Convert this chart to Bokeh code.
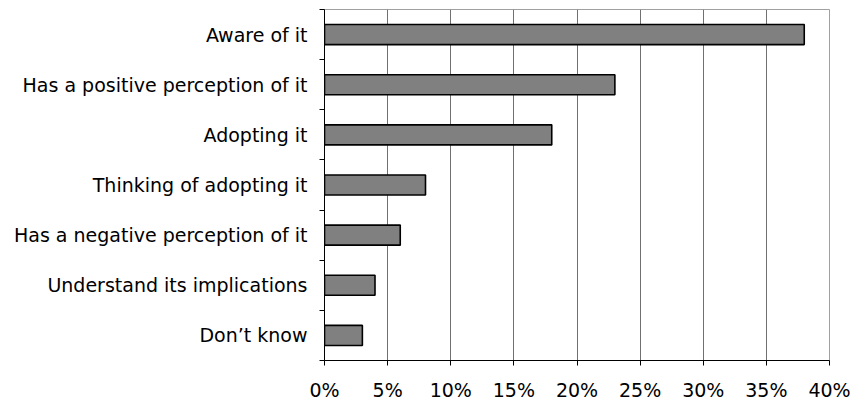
from bokeh.plotting import figure
from bokeh.models import ColumnDataSource, FixedTicker, PrintfTickFormatter, Range1d
from bokeh.embed import file_html
from bokeh.resources import INLINE

# Survey responses (share of respondents, %)
categories = [
    "Aware of it",
    "Has a positive perception of it",
    "Adopting it",
    "Thinking of adopting it",
    "Has a negative perception of it",
    "Understand its implications",
    "Don\u2019t know",
]
shares = [38, 23, 18, 8, 6, 4, 3]
x_ticks = [0, 5, 10, 15, 20, 25, 30, 35, 40]

n = len(categories)
# first category at the top: position n-0.5, last at 0.5
ypos = [n - 0.5 - i for i in range(n)]

source = ColumnDataSource(dict(y=ypos, share=shares, label=categories))

FONT = "DejaVu Sans"
SIZE = "19px"

p = figure(
    width=856, height=403,
    x_range=Range1d(0, 40), y_range=Range1d(0, n),
    output_backend="svg", toolbar_location=None,
    min_border_left=324, min_border_right=27,
    min_border_top=9, min_border_bottom=42,
)

p.hbar(y="y", left=0, right="share", height=0.4, source=source,
       fill_color="#808080", line_color="#000000", line_width=1.6)

# x axis: percent ticks every 5
p.xaxis.ticker = FixedTicker(ticks=x_ticks)
p.xaxis.formatter = PrintfTickFormatter(format="%d%%")
p.xaxis.axis_line_color = "#000000"
p.xaxis.major_tick_line_color = "#000000"
p.xaxis.major_tick_out = 5
p.xaxis.major_tick_in = 0
p.xaxis.minor_tick_line_color = None
p.xaxis.major_label_text_font = FONT
p.xaxis.major_label_text_font_size = SIZE
p.xaxis.major_label_text_color = "#000000"
p.xaxis.major_label_standoff = 13

# y axis: category names at centres, tick marks on the boundaries
p.yaxis.ticker = FixedTicker(ticks=ypos, minor_ticks=list(range(n + 1)))
p.yaxis.major_label_overrides = {y: lab for y, lab in zip(ypos, categories)}
p.yaxis.axis_line_color = "#000000"
p.yaxis.major_tick_line_color = None
p.yaxis.major_tick_out = 0
p.yaxis.major_tick_in = 0
p.yaxis.minor_tick_line_color = "#000000"
p.yaxis.minor_tick_out = 5
p.yaxis.minor_tick_in = 0
p.yaxis.major_label_text_font = FONT
p.yaxis.major_label_text_font_size = SIZE
p.yaxis.major_label_text_color = "#000000"
p.yaxis.major_label_standoff = 12

p.xgrid.ticker = FixedTicker(ticks=x_ticks)
p.xgrid.grid_line_color = "#707070"
p.xgrid.grid_line_width = 1
p.ygrid.grid_line_color = None

p.outline_line_color = "#a0a0a0"
p.outline_line_width = 1
p.background_fill_color = "white"
p.border_fill_color = "white"

open("out.html", "w").write(file_html(p, INLINE))
